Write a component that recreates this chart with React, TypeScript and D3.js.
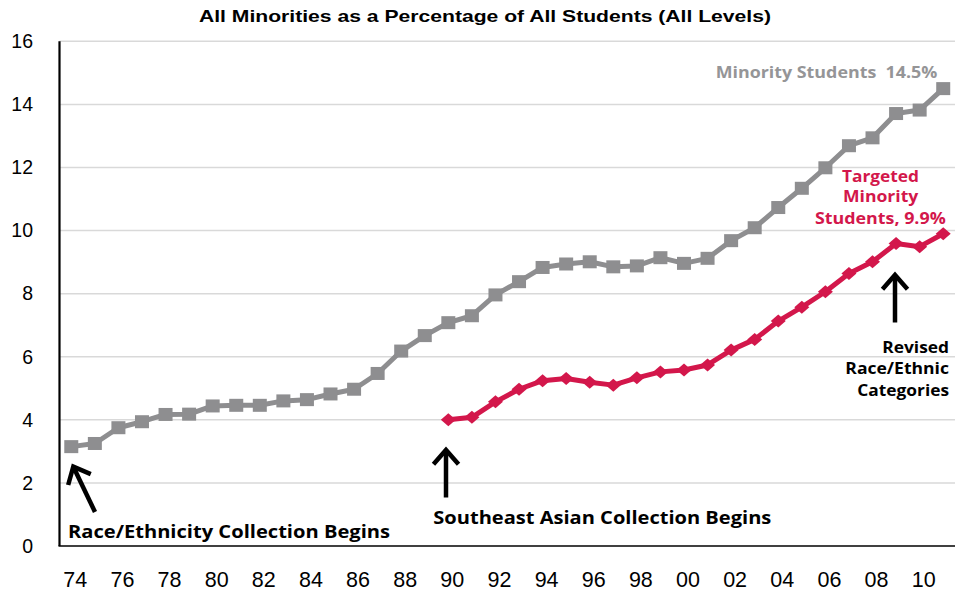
import React from "react";
import * as d3 from "d3";

const years: number[] = d3.range(1974, 2012);

// All minority students, % of all students
const minorityValues: number[] = [
  3.15, 3.25, 3.75, 3.94, 4.17, 4.18, 4.44, 4.46, 4.46, 4.6,
  4.64, 4.82, 4.97, 5.47, 6.18, 6.67, 7.08, 7.3, 7.96, 8.38,
  8.83, 8.94, 9.01, 8.85, 8.88, 9.14, 8.96, 9.12, 9.68, 10.09,
  10.73, 11.34, 11.99, 12.69, 12.94, 13.71, 13.82, 14.5,
];

// Targeted minority students, starting 1990
const targetedYears: number[] = d3.range(1990, 2012);
const targetedValues: number[] = [
  4.0, 4.08, 4.57, 4.97, 5.24, 5.31, 5.19, 5.1, 5.33, 5.52,
  5.58, 5.74, 6.21, 6.55, 7.13, 7.57, 8.06, 8.64, 9.01, 9.59,
  9.49, 9.9,
];

const yTicks: number[] = [0, 2, 4, 6, 8, 10, 12, 14, 16];
const xTickYears: number[] = d3.range(1974, 2012, 2);

const W = 961;
const H = 590;
const left = 59.5;
const right = 955;
const top = 41.3;
const bottom = 546;

const GRAY = "#8e8e90";
const RED = "#d3174b";
const SANS = "Liberation Sans, Arimo, Arial, Helvetica, sans-serif";
const LABEL_FONT = "Open Sans, Lato, sans-serif";

export default function App() {
  const x = d3.scalePoint<number>().domain(years).range([left, right]).padding(0.5);
  const y = d3.scaleLinear().domain([0, 16]).range([bottom, top]);

  const line = d3
    .line<[number, number]>()
    .x((d) => x(d[0]) as number)
    .y((d) => y(d[1]));

  const minorityPts: [number, number][] = years.map((yr, i) => [yr, minorityValues[i]]);
  const targetedPts: [number, number][] = targetedYears.map((yr, i) => [yr, targetedValues[i]]);

  const yrLabel = (yr: number) => String(yr % 100).padStart(2, "0");

  // arrow from tail to tip, with an open chevron head
  const arrow = (tx: number, ty: number, bx: number, by: number, key: string) => {
    const ang = Math.atan2(by - ty, bx - tx);
    const len = 19;
    const spread = 0.72;
    const a1x = tx + len * Math.cos(ang - spread);
    const a1y = ty + len * Math.sin(ang - spread);
    const a2x = tx + len * Math.cos(ang + spread);
    const a2y = ty + len * Math.sin(ang + spread);
    return (
      <g key={key} stroke="#000" strokeWidth={4.5} fill="none">
        <line x1={tx + 2 * Math.cos(ang)} y1={ty + 2 * Math.sin(ang)} x2={bx} y2={by} />
        <polyline points={`${a1x},${a1y} ${tx},${ty} ${a2x},${a2y}`} strokeLinejoin="miter" />
      </g>
    );
  };

  const diamond = (cx: number, cy: number) =>
    `M${cx},${cy - 6.5} L${cx + 7.5},${cy} L${cx},${cy + 6.5} L${cx - 7.5},${cy} Z`;

  const label = (
    txt: string,
    tx: number,
    ty: number,
    len: number,
    anchor: "start" | "middle" | "end" = "start"
  ) => (
    <text
      x={tx}
      y={ty}
      textAnchor={anchor}
      textLength={len}
      lengthAdjust="spacingAndGlyphs"
      style={{ whiteSpace: "pre" }}
    >
      {txt}
    </text>
  );

  return (
    <svg
      width={W}
      height={H}
      style={{ position: "absolute", left: 0, top: 0, background: "#fff" }}
    >
      <rect width={W} height={H} fill="#fff" />
      <text
        x={485}
        y={21.5}
        textAnchor="middle"
        fontFamily={SANS}
        fontWeight="bold"
        fontSize={16.5}
        fill="#000"
        textLength={572}
        lengthAdjust="spacingAndGlyphs"
      >
        All Minorities as a Percentage of All Students (All Levels)
      </text>

      {/* gridlines */}
      {yTicks.filter((t) => t > 0).map((t) => (
        <line key={t} x1={left} x2={right} y1={y(t)} y2={y(t)} stroke="#d9d9d9" strokeWidth={1.5} />
      ))}

      {/* y tick labels */}
      {yTicks.map((t) => (
        <text
          key={t}
          x={33}
          y={y(t) + 6.8}
          textAnchor="end"
          fontFamily={SANS}
          fontSize={19.5}
          fill="#000"
        >
          {t}
        </text>
      ))}

      {/* x tick labels */}
      {xTickYears.map((yr) => (
        <text
          key={yr}
          x={(x(yr) as number) + 4}
          y={586.5}
          textAnchor="middle"
          fontFamily={SANS}
          fontSize={21.5}
          fill="#000"
        >
          {yrLabel(yr)}
        </text>
      ))}

      {/* axes */}
      <line x1={left} x2={left} y1={top} y2={bottom} stroke="#000" strokeWidth={2.2} />
      <line x1={left - 1} x2={right} y1={bottom} y2={bottom} stroke="#000" strokeWidth={1.6} />

      {/* minority series */}
      <path d={line(minorityPts) || ""} fill="none" stroke={GRAY} strokeWidth={5} strokeLinejoin="round" />
      {minorityPts.map((d) => (
        <rect
          key={d[0]}
          x={(x(d[0]) as number) - 7}
          y={y(d[1]) - 6.5}
          width={14}
          height={13}
          fill={GRAY}
        />
      ))}

      {/* targeted series */}
      <path d={line(targetedPts) || ""} fill="none" stroke={RED} strokeWidth={5} strokeLinejoin="round" />
      {targetedPts.map((d) => (
        <path key={d[0]} d={diamond(x(d[0]) as number, y(d[1]))} fill={RED} />
      ))}

      {/* series labels */}
      <g fontFamily={LABEL_FONT} fontWeight="bold" fontSize={16.5} fill="#959597">
        {label("Minority Students  14.5%", 715.7, 77.7, 221.6)}
      </g>
      <g fontFamily={LABEL_FONT} fontWeight="bold" fontSize={16} fill={RED}>
        {label("Targeted", 842, 181.7, 77, "start")}
        {label("Minority", 843, 201.7, 75.3, "start")}
        {label("Students, 9.9%", 815, 224, 130.7, "start")}
      </g>

      {/* annotations */}
      {arrow(73.3, 466.7, 95, 512, "a1")}
      {arrow(446, 450, 446, 497.5, "a2")}
      {arrow(895, 275, 895, 322.5, "a3")}

      <g fontFamily={LABEL_FONT} fontWeight="bold" fontSize={17} fill="#000">
        {label("Race/Ethnicity Collection Begins", 68, 538, 322)}
        {label("Southeast Asian Collection Begins", 433.3, 524, 338)}
      </g>
      <g fontFamily={LABEL_FONT} fontWeight="bold" fontSize={16} fill="#000">
        {label("Revised", 949, 353.3, 66.7, "end")}
        {label("Race/Ethnic", 949, 373.5, 103.7, "end")}
        {label("Categories", 949, 395.5, 91.7, "end")}
      </g>
    </svg>
  );
}
